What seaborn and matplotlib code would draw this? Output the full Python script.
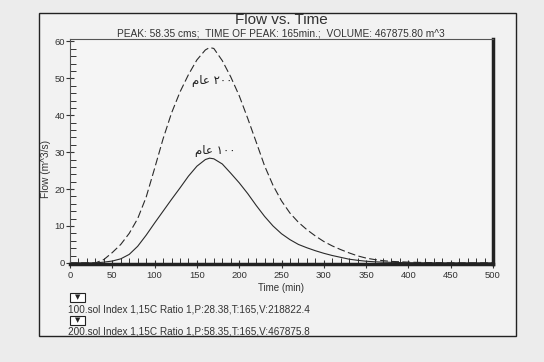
import numpy as np
import pandas as pd
import matplotlib
matplotlib.use("Agg")
import matplotlib.pyplot as plt
from matplotlib.patches import Rectangle
from matplotlib.ticker import MultipleLocator
import seaborn as sns

# Hydrograph values (time in min, flow in m^3/s)
time_min = [0, 10, 20, 30, 40, 50, 60, 70, 80, 90, 100, 110, 120, 130, 140, 150, 160, 165,
            170, 180, 190, 200, 210, 220, 230, 240, 250, 260, 270, 280, 290, 300, 310, 320,
            330, 340, 350, 360, 370, 380, 400, 420, 450, 500]
flow_100 = [0, 0, 0, 0, 0.2, 0.5, 1.1, 2.3, 4.5, 7.5, 10.8, 14.0, 17.2, 20.3, 23.5, 26.2, 28.0, 28.38,
            28.2, 26.8, 24.3, 21.7, 18.8, 15.6, 12.6, 10.0, 7.9, 6.3, 5.0, 4.1, 3.3, 2.6, 2.0, 1.5,
            1.0, 0.7, 0.45, 0.3, 0.2, 0.15, 0.05, 0.02, 0, 0]
flow_200 = [0, 0, 0, 0, 0.9, 2.8, 5.0, 8.0, 12.0, 17.8, 25.6, 33.6, 40.6, 46.3, 51.0, 55.0, 57.7, 58.35,
            58.1, 54.8, 50.4, 45.3, 39.2, 32.8, 26.3, 21.0, 16.8, 13.5, 11.0, 9.0, 7.3, 5.8, 4.6, 3.6,
            2.7, 1.9, 1.3, 0.9, 0.6, 0.4, 0.2, 0.1, 0, 0]

# Arabic labels in visual (left-to-right) order with presentation forms
labels_ar = ["\uFEE1\uFE8E\uFECB \u0661\u0660\u0660", "\uFEE1\uFE8E\uFECB \u0662\u0660\u0660"]
label_pos = [(172, 30.5), (168, 49.5)]

legend_lines = ["100.sol Index 1,15C Ratio 1,P:28.38,T:165,V:218822.4",
                "200.sol Index 1,15C Ratio 1,P:58.35,T:165,V:467875.8"]

sns.set_style("white")
plt.rcParams['font.family'] = ['Liberation Sans', 'DejaVu Sans']

W, H = 544, 362
fig = plt.figure(figsize=(W / 100, H / 100), dpi=100)
fig.patch.set_facecolor('#ececec')

# outer frame of the chart window
fig.patches.append(Rectangle((39 / W, 1 - 336 / H), (516 - 39) / W, (336 - 13) / H,
                             transform=fig.transFigure, fc='#f2f2f2', ec='#222222', lw=1.0, zorder=-5))

ax = fig.add_axes([70 / W, 1 - 264 / H, (493 - 70) / W, (264 - 38.5) / H])
ax.set_zorder(2)
ax.set_facecolor('#f5f5f5')

df = pd.DataFrame({'time': time_min, 'q100': flow_100, 'q200': flow_200})
sns.lineplot(data=df, x='time', y='q100', ax=ax, color='#2a2a2a', lw=0.8)
sns.lineplot(data=df, x='time', y='q200', ax=ax, color='#2a2a2a', lw=0.8)
ax.lines[-1].set_dashes([7, 3])

for txt, (tx, ty) in zip(labels_ar, label_pos):
    ax.text(tx, ty, txt, ha='center', va='center', fontsize=8.5, color='#222',
            family=['DejaVu Sans'])

ax.set_xlim(0, 500)
ax.set_ylim(-0.3, 60.8)
ax.xaxis.set_major_locator(MultipleLocator(50))
ax.xaxis.set_minor_locator(MultipleLocator(10))
ax.yaxis.set_major_locator(MultipleLocator(10))
ax.yaxis.set_minor_locator(MultipleLocator(2))
ax.tick_params(axis='both', which='major', direction='inout', length=6, width=0.8,
               labelsize=6.8, colors='#333', bottom=True, left=True)
ax.tick_params(axis='x', which='major', pad=2)
ax.tick_params(axis='y', which='major', pad=0.5)
ax.tick_params(axis='x', which='minor', direction='in', length=4, width=0.7, color='#333', bottom=True)
ax.tick_params(axis='y', which='minor', direction='in', length=4, width=0.7, color='#333', left=True)

for side in ['left', 'top']:
    ax.spines[side].set_linewidth(0.8)
    ax.spines[side].set_color('#555')
for side in ['right', 'bottom']:
    ax.spines[side].set_linewidth(2.5)
    ax.spines[side].set_color('#222')

ax.set_xlabel('Time (min)', fontsize=7, color='#333')
ax.set_ylabel('Flow (m^3/s)', fontsize=7.3, color='#333')
ax.yaxis.set_label_coords(-0.045, 0.42)
ax.xaxis.set_label_coords(0.5, -0.085)

fig.text(281 / W, 1 - 20 / H, 'Flow vs. Time', ha='center', va='center', fontsize=11, color='#333')
fig.text(281 / W, 1 - 33.5 / H,
         'PEAK: 58.35 cms;  TIME OF PEAK: 165min.;  VOLUME: 467875.80 m^3',
         ha='center', va='center', fontsize=7.25, color='#333')

# legend rows: little drop-down boxes and series descriptions
box_tops = [293, 316]
text_y = [309, 331]
for bt, ty, line in zip(box_tops, text_y, legend_lines):
    fig.patches.append(Rectangle((70 / W, 1 - (bt + 9) / H), 15 / W, 9 / H,
                                 transform=fig.transFigure, fc='white', ec='#222', lw=0.8, zorder=1))
    fig.text(77.5 / W, 1 - (bt + 4.5) / H, '\u25BC', ha='center', va='center', fontsize=5,
             color='#222', family=['DejaVu Sans'])
    fig.text(68 / W, 1 - ty / H, line, ha='left', va='center', fontsize=7.2, color='#333')

fig.savefig('out.png', dpi=100, facecolor=fig.get_facecolor())
